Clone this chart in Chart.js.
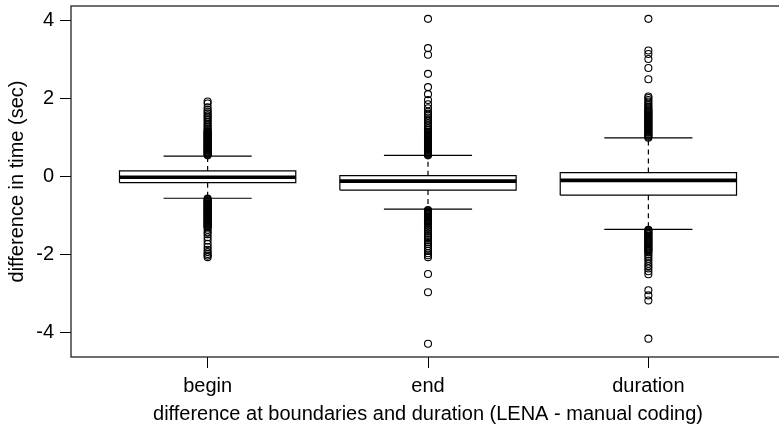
<!DOCTYPE html>
<html>
<head>
<meta charset="utf-8">
<script src="https://cdn.jsdelivr.net/npm/chart.js@4.4.1/dist/chart.umd.min.js"></script>
<style>
  html, body { margin: 0; padding: 0; background: #fff; overflow: hidden; }
</style>
</head>
<body>
<canvas id="boxChart" width="800" height="426"></canvas>
<script>
// Box statistics (seconds)
var categories = ['begin', 'end', 'duration'];
var lowerWhisker = [-0.55, -0.83, -1.35];
var q1 = [-0.15, -0.34, -0.47];
var median = [-0.01, -0.11, -0.09];
var q3 = [0.15, 0.03, 0.11];
var upperWhisker = [0.53, 0.55, 1.00];
var yTicks = [-4, -2, 0, 2, 4];

// Outliers, estimated point by point (dense runs look solid black)
var beginOutliers = [
  1.93, 1.88, 1.78, 1.72, 1.67, 1.63, 1.58, 1.54, 1.50, 1.45, 1.41, 1.36, 1.32, 1.28, 1.24, 1.20,
  1.17, 1.15, 1.13, 1.11, 1.09, 1.07, 1.05, 1.03, 1.01, 0.99, 0.97, 0.95, 0.93, 0.91, 0.89, 0.87,
  0.85, 0.83, 0.81, 0.79, 0.77, 0.75, 0.73, 0.71, 0.69, 0.67, 0.65, 0.63, 0.61, 0.59, 0.57, 0.55,
  -0.56, -0.58, -0.60, -0.62, -0.64, -0.66, -0.68, -0.70, -0.72, -0.74, -0.76, -0.78, -0.80, -0.82,
  -0.84, -0.86, -0.88, -0.90, -0.92, -0.94, -0.96, -0.98, -1.00, -1.02, -1.04, -1.06, -1.08, -1.10,
  -1.12, -1.14, -1.16, -1.18, -1.20, -1.22, -1.24, -1.26, -1.28, -1.30,
  -1.36, -1.42, -1.47, -1.55, -1.63, -1.72, -1.80, -1.87, -1.93, -1.98, -2.02, -2.06
];
var endOutliers = [
  4.05, 3.30, 3.13, 2.64, 2.30, 2.12, 1.97, 1.86, 1.76, 1.67, 1.62, 1.57, 1.52, 1.47, 1.43, 1.38,
  1.33, 1.29, 1.24, 1.20, 1.16, 1.13, 1.11, 1.09, 1.07, 1.05, 1.03, 1.01, 0.99, 0.97, 0.95, 0.93,
  0.91, 0.89, 0.87, 0.85, 0.83, 0.81, 0.79, 0.77, 0.75, 0.73, 0.71, 0.69, 0.67, 0.65, 0.63, 0.61,
  0.59, 0.57, 0.55,
  -0.85, -0.87, -0.89, -0.91, -0.93, -0.95, -0.97, -0.99, -1.01, -1.03, -1.05, -1.07, -1.09, -1.11,
  -1.13, -1.15, -1.17, -1.19, -1.21, -1.26, -1.31, -1.36, -1.41, -1.46, -1.52, -1.57, -1.62, -1.67,
  -1.72, -1.78, -1.84, -1.90, -1.96, -2.01, -2.06, -2.49, -2.96, -4.28
];
var durationOutliers = [
  4.05, 3.24, 3.15, 3.02, 2.79, 2.50, 2.06, 2.02, 1.97, 1.93, 1.88, 1.84, 1.80, 1.76,
  1.73, 1.70, 1.68, 1.65, 1.63, 1.60, 1.58, 1.55, 1.53, 1.50, 1.48, 1.45, 1.43, 1.40, 1.38, 1.35,
  1.33, 1.30, 1.28, 1.25, 1.23, 1.20, 1.18, 1.15, 1.13, 1.10, 1.08, 1.05, 1.03, 1.00,
  -1.36, -1.38, -1.41, -1.43, -1.46, -1.48, -1.51, -1.53, -1.56, -1.58, -1.61, -1.63, -1.66, -1.68,
  -1.71, -1.73, -1.76, -1.78, -1.81, -1.83, -1.86, -1.88, -1.91, -1.94,
  -1.99, -2.04, -2.10, -2.16, -2.23, -2.29, -2.35, -2.42, -2.50, -2.91, -3.04, -3.17, -4.15
];
var outliers = [beginOutliers, endOutliers, durationOutliers];

var BOX_HALF = 0.4;   // R boxwex 0.8
var CAP_HALF = 0.2;   // staplewex 0.5
var FONT = { family: '"Liberation Sans", Arial, sans-serif', size: 20, lineHeight: 1.2 };

// build null-separated line segments, one group per category
function segments(build) {
  var pts = [];
  categories.forEach(function (c, i) {
    build(i + 1, i).forEach(function (p) { pts.push(p); });
    pts.push({ x: i + 1, y: null });
  });
  return pts;
}

var boxData = segments(function (x, i) {
  return [
    { x: x - BOX_HALF, y: q1[i] }, { x: x + BOX_HALF, y: q1[i] },
    { x: x + BOX_HALF, y: q3[i] }, { x: x - BOX_HALF, y: q3[i] },
    { x: x - BOX_HALF, y: q1[i] }
  ];
});
var medianData = segments(function (x, i) {
  return [{ x: x - BOX_HALF, y: median[i] }, { x: x + BOX_HALF, y: median[i] }];
});
var whiskerData = segments(function (x, i) {
  return [{ x: x, y: q3[i] }, { x: x, y: upperWhisker[i] }, { x: x, y: null },
          { x: x, y: q1[i] }, { x: x, y: lowerWhisker[i] }];
});
var capData = segments(function (x, i) {
  return [{ x: x - CAP_HALF, y: upperWhisker[i] }, { x: x + CAP_HALF, y: upperWhisker[i] }, { x: x, y: null },
          { x: x - CAP_HALF, y: lowerWhisker[i] }, { x: x + CAP_HALF, y: lowerWhisker[i] }];
});
var outlierData = [];
outliers.forEach(function (list, i) {
  list.forEach(function (v) { outlierData.push({ x: i + 1, y: v }); });
});

function lineSet(data, extra) {
  var ds = {
    data: data, showLine: true, spanGaps: false, pointRadius: 0, pointHoverRadius: 0,
    borderColor: '#000', borderWidth: 1.2, fill: false
  };
  return Object.assign(ds, extra || {});
}

// R-style frame around the plot region
var frame = {
  id: 'frame',
  afterDatasetsDraw: function (chart) {
    var a = chart.chartArea, c = chart.ctx;
    c.save();
    c.strokeStyle = '#222';
    c.lineWidth = 1.3;
    c.strokeRect(a.left, a.top, a.right - a.left, a.bottom - a.top);
    c.restore();
  }
};

var ctx = document.getElementById('boxChart').getContext('2d');
var boxChart = new Chart(ctx, {
  type: 'scatter',
  data: {
    datasets: [
      {
        data: outlierData, pointStyle: 'circle', pointRadius: 3.5, pointHoverRadius: 3.5,
        borderColor: '#000', borderWidth: 1.1, backgroundColor: 'rgba(0,0,0,0)'
      },
      lineSet(medianData, { borderWidth: 3.6 }),
      lineSet(capData),
      lineSet(whiskerData, { borderDash: [5, 4] }),
      lineSet(boxData)
    ]
  },
  options: {
    responsive: false,
    animation: false,
    layout: { padding: { top: 6, right: 15, left: 0, bottom: 0 } },
    plugins: { legend: { display: false }, tooltip: { enabled: false } },
    scales: {
      x: {
        type: 'linear',
        min: 0.38,
        max: 3.62,
        afterBuildTicks: function (s) {
          s.ticks = categories.map(function (c, i) { return { value: i + 1 }; });
        },
        afterFit: function (s) {
          s.height = 69;
          s.paddingLeft = 0;
          s.paddingRight = 0;
        },
        ticks: {
          callback: function (v) { return categories[Math.round(v) - 1]; },
          font: FONT, color: '#000', padding: 6, maxRotation: 0, autoSkip: false
        },
        grid: { drawOnChartArea: false, tickLength: 11, color: '#000', lineWidth: 1 },
        border: { display: false },
        title: {
          display: true,
          text: 'difference at boundaries and duration (LENA - manual coding)',
          font: FONT, color: '#000', padding: 0
        }
      },
      y: {
        min: -4.62,
        max: 4.38,
        afterBuildTicks: function (s) {
          s.ticks = yTicks.map(function (v) { return { value: v }; });
        },
        afterFit: function (s) {
          s.width = 71;
          s.paddingTop = 0;
          s.paddingBottom = 0;
        },
        ticks: {
          callback: function (v) { return String(v); },
          font: FONT, color: '#000', padding: 6
        },
        grid: { drawOnChartArea: false, tickLength: 11, color: '#000', lineWidth: 1 },
        border: { display: false },
        title: {
          display: true,
          text: 'difference in time (sec)',
          font: FONT, color: '#000', padding: { top: 5, bottom: 0 }
        }
      }
    }
  },
  plugins: [frame]
});
</script>
</body>
</html>
